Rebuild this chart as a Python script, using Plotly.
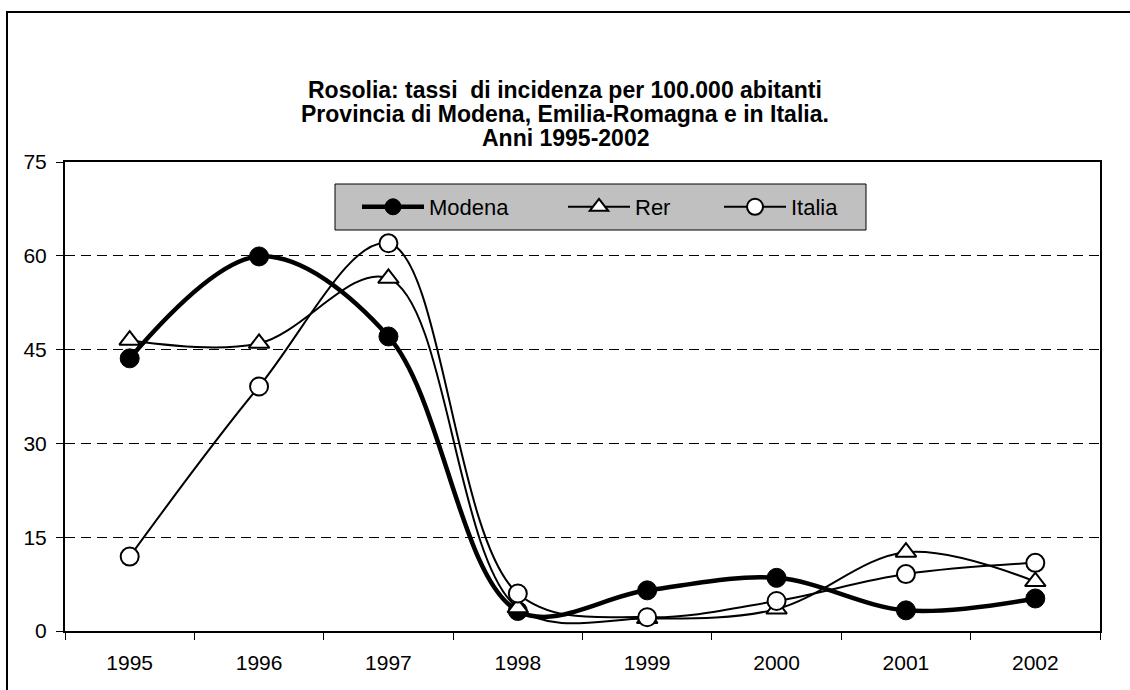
import plotly.graph_objects as go

# Rubella incidence per 100,000 inhabitants
anni = ["1995", "1996", "1997", "1998", "1999", "2000", "2001", "2002"]
modena = [43.6, 59.9, 47.1, 3.2, 6.5, 8.5, 3.3, 5.2]
rer = [46.5, 46.0, 56.4, 3.7, 2.0, 3.5, 12.6, 7.9]
italia = [11.9, 39.1, 62.0, 6.0, 2.2, 4.8, 9.1, 10.9]

y_ticks = [0, 15, 30, 45, 60, 75]

title_lines = [
    "Rosolia: tassi  di incidenza per 100.000 abitanti",
    "Provincia di Modena, Emilia-Romagna e in Italia.",
    "Anni 1995-2002",
]

FONT = "Liberation Sans, Arial, sans-serif"

W, H = 1130, 690
L, R, T, B = 65, 30, 162, 59
pw, ph = W - L - R, H - T - B


def px_x(x):
    return (x - L) / pw


def px_y(y):
    return (H - B - y) / ph


fig = go.Figure()

fig.add_trace(go.Scatter(
    x=anni, y=modena, name="Modena", mode="lines+markers", legend="legend",
    line=dict(color="black", width=4.5, shape="spline", smoothing=1),
    marker=dict(symbol="circle", size=19, color="black",
                line=dict(color="black", width=1)),
))
fig.add_trace(go.Scatter(
    x=anni, y=rer, name="Rer", mode="lines+markers", legend="legend2",
    line=dict(color="black", width=2, shape="spline", smoothing=1),
    marker=dict(symbol="triangle-up", size=18, color="white",
                line=dict(color="black", width=2)),
))
fig.add_trace(go.Scatter(
    x=anni, y=italia, name="Italia", mode="lines+markers", legend="legend3",
    line=dict(color="black", width=2, shape="spline", smoothing=1),
    marker=dict(symbol="circle", size=18, color="white",
                line=dict(color="black", width=2)),
))

legend_common = dict(
    orientation="h", xanchor="left", yanchor="middle", y=px_y(207),
    bgcolor="rgba(0,0,0,0)", borderwidth=0,
    font=dict(family=FONT, size=22, color="black"),
    itemwidth=62,
)

fig.update_layout(
    width=W, height=H,
    margin=dict(l=L, r=R, t=T, b=B),
    paper_bgcolor="white", plot_bgcolor="white",
    font=dict(family=FONT, size=21, color="black"),
    showlegend=True,
    legend=dict(legend_common, x=px_x(357)),
    legend2=dict(legend_common, x=px_x(563)),
    legend3=dict(legend_common, x=px_x(719)),
    xaxis=dict(
        type="category", range=[-0.5, 7.5],
        showline=True, mirror=True, linecolor="black", linewidth=2,
        ticks="outside", tickson="boundaries", ticklen=7, tickcolor="black",
        tickwidth=1, showgrid=False, zeroline=False,
        ticklabelstandoff=12,
        tickfont=dict(family=FONT, size=21, color="black"),
    ),
    yaxis=dict(
        range=[0, 75], tickvals=y_ticks,
        showline=True, mirror=True, linecolor="black", linewidth=2,
        ticks="outside", ticklen=7, tickcolor="black", tickwidth=1,
        showgrid=True, gridcolor="black", gridwidth=1, griddash="10px,6px",
        zeroline=False, ticklabelstandoff=5,
        tickfont=dict(family=FONT, size=21, color="black"),
    ),
)

# Title, one annotation per line
for i, line in enumerate(title_lines):
    fig.add_annotation(
        text="<b>" + line + "</b>", xref="paper", yref="paper",
        x=px_x(565), y=px_y(90 + 24 * i), xanchor="center", yanchor="middle",
        showarrow=False, font=dict(family=FONT, size=23, color="black"),
    )

# Grey legend panel
fig.add_shape(
    type="rect", xref="paper", yref="paper",
    x0=px_x(335), x1=px_x(866), y0=px_y(230), y1=px_y(184),
    line=dict(color="black", width=1), fillcolor="#C0C0C0", layer="above",
)

# Outer chart frame
fig.add_shape(
    type="rect", xref="paper", yref="paper",
    x0=px_x(7), x1=px_x(W + 10), y0=px_y(H + 10), y1=px_y(12),
    line=dict(color="black", width=2), fillcolor="rgba(0,0,0,0)",
    layer="above",
)

fig.write_html("out.html")
